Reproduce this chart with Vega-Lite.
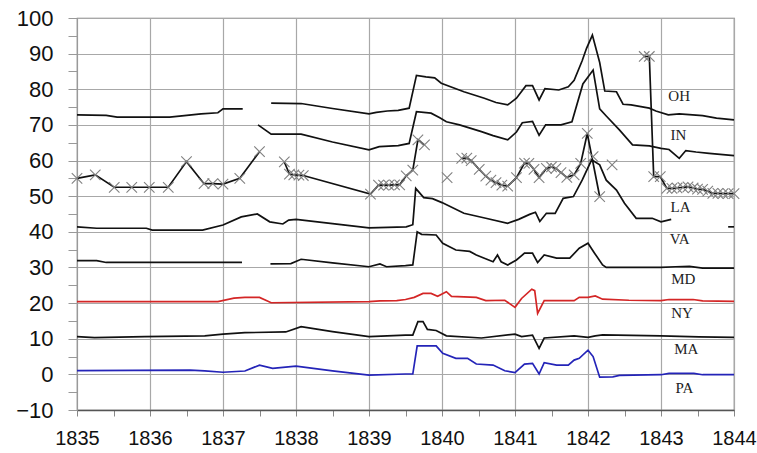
{
  "$schema": "https://vega.github.io/schema/vega-lite/v6.json",
  "width": 657,
  "height": 392,
  "autosize": {"type": "none"},
  "padding": {"left": 77, "top": 18, "right": 23, "bottom": 43},
  "background": "white",
  "config": {
    "view": {"stroke": "#777", "strokeWidth": 1.2},
    "font": "Liberation Sans",
    "axis": {"labelOverlap": false, "labelSeparation": -30}
  },
  "datasets": {
    "lines": [
      {"s":"OH","g":1,"x":1835.0,"y":72.8},{"s":"OH","g":1,"x":1835.4,"y":72.7},{"s":"OH","g":1,"x":1835.55,"y":72.2},{"s":"OH","g":1,"x":1836.27,"y":72.2},{"s":"OH","g":1,"x":1836.47,"y":72.6},{"s":"OH","g":1,"x":1836.7,"y":73.1},{"s":"OH","g":1,"x":1836.93,"y":73.4},{"s":"OH","g":1,"x":1837.0,"y":74.5},{"s":"OH","g":1,"x":1837.27,"y":74.5},
      {"s":"OH","g":2,"x":1837.66,"y":76.1},{"s":"OH","g":2,"x":1838.07,"y":76.0},{"s":"OH","g":2,"x":1838.5,"y":74.6},{"s":"OH","g":2,"x":1839.0,"y":73.1},{"s":"OH","g":2,"x":1839.1,"y":73.5},{"s":"OH","g":2,"x":1839.25,"y":73.9},{"s":"OH","g":2,"x":1839.4,"y":74.1},{"s":"OH","g":2,"x":1839.55,"y":74.7},{"s":"OH","g":2,"x":1839.65,"y":83.9},{"s":"OH","g":2,"x":1839.78,"y":83.5},{"s":"OH","g":2,"x":1839.9,"y":83.2},{"s":"OH","g":2,"x":1839.99,"y":81.7},{"s":"OH","g":2,"x":1840.3,"y":79.3},{"s":"OH","g":2,"x":1840.58,"y":77.5},{"s":"OH","g":2,"x":1840.74,"y":76.3},{"s":"OH","g":2,"x":1840.9,"y":75.6},{"s":"OH","g":2,"x":1841.02,"y":77.5},{"s":"OH","g":2,"x":1841.15,"y":81.0},{"s":"OH","g":2,"x":1841.24,"y":81.0},{"s":"OH","g":2,"x":1841.33,"y":77.0},{"s":"OH","g":2,"x":1841.41,"y":80.2},{"s":"OH","g":2,"x":1841.6,"y":79.8},{"s":"OH","g":2,"x":1841.73,"y":80.7},{"s":"OH","g":2,"x":1841.81,"y":82.5},{"s":"OH","g":2,"x":1841.92,"y":88.0},{"s":"OH","g":2,"x":1841.98,"y":91.5},{"s":"OH","g":2,"x":1842.06,"y":95.2},{"s":"OH","g":2,"x":1842.16,"y":87.5},{"s":"OH","g":2,"x":1842.23,"y":79.5},{"s":"OH","g":2,"x":1842.39,"y":79.3},{"s":"OH","g":2,"x":1842.48,"y":75.8},{"s":"OH","g":2,"x":1842.59,"y":75.6},{"s":"OH","g":2,"x":1842.84,"y":74.7},{"s":"OH","g":2,"x":1842.93,"y":73.9},{"s":"OH","g":2,"x":1843.1,"y":72.8},{"s":"OH","g":2,"x":1843.25,"y":73.1},{"s":"OH","g":2,"x":1843.57,"y":72.6},{"s":"OH","g":2,"x":1843.76,"y":71.9},{"s":"OH","g":2,"x":1844.0,"y":71.4},

      {"s":"IN","g":1,"x":1837.48,"y":70.0},{"s":"IN","g":1,"x":1837.66,"y":67.4},{"s":"IN","g":1,"x":1838.07,"y":67.4},{"s":"IN","g":1,"x":1838.5,"y":65.2},{"s":"IN","g":1,"x":1839.0,"y":63.0},{"s":"IN","g":1,"x":1839.14,"y":63.9},{"s":"IN","g":1,"x":1839.4,"y":64.2},{"s":"IN","g":1,"x":1839.55,"y":64.8},{"s":"IN","g":1,"x":1839.65,"y":73.7},{"s":"IN","g":1,"x":1839.85,"y":73.3},{"s":"IN","g":1,"x":1839.97,"y":72.0},{"s":"IN","g":1,"x":1840.06,"y":70.9},{"s":"IN","g":1,"x":1840.24,"y":70.0},{"s":"IN","g":1,"x":1840.54,"y":68.1},{"s":"IN","g":1,"x":1840.7,"y":67.0},{"s":"IN","g":1,"x":1840.9,"y":65.8},{"s":"IN","g":1,"x":1841.02,"y":68.0},{"s":"IN","g":1,"x":1841.1,"y":70.6},{"s":"IN","g":1,"x":1841.24,"y":71.0},{"s":"IN","g":1,"x":1841.33,"y":67.1},{"s":"IN","g":1,"x":1841.42,"y":70.0},{"s":"IN","g":1,"x":1841.63,"y":70.0},{"s":"IN","g":1,"x":1841.78,"y":70.9},{"s":"IN","g":1,"x":1841.93,"y":81.5},{"s":"IN","g":1,"x":1842.07,"y":85.4},{"s":"IN","g":1,"x":1842.16,"y":74.5},{"s":"IN","g":1,"x":1842.25,"y":72.5},{"s":"IN","g":1,"x":1842.43,"y":68.6},{"s":"IN","g":1,"x":1842.61,"y":64.4},{"s":"IN","g":1,"x":1842.84,"y":64.1},{"s":"IN","g":1,"x":1843.0,"y":63.4},{"s":"IN","g":1,"x":1843.11,"y":63.1},{"s":"IN","g":1,"x":1843.25,"y":60.6},{"s":"IN","g":1,"x":1843.34,"y":62.8},{"s":"IN","g":1,"x":1843.48,"y":62.4},{"s":"IN","g":1,"x":1843.66,"y":62.0},{"s":"IN","g":1,"x":1844.0,"y":61.4},

      {"s":"LA","g":1,"x":1835.0,"y":55.0},{"s":"LA","g":1,"x":1835.25,"y":56.0},{"s":"LA","g":1,"x":1835.51,"y":52.5},{"s":"LA","g":1,"x":1835.75,"y":52.5},{"s":"LA","g":1,"x":1835.99,"y":52.5},{"s":"LA","g":1,"x":1836.25,"y":52.5},{"s":"LA","g":1,"x":1836.5,"y":59.7},{"s":"LA","g":1,"x":1836.74,"y":53.5},{"s":"LA","g":1,"x":1836.86,"y":53.5},{"s":"LA","g":1,"x":1837.0,"y":53.4},{"s":"LA","g":1,"x":1837.23,"y":55.0},{"s":"LA","g":1,"x":1837.5,"y":62.5},
      {"s":"LA","g":2,"x":1837.84,"y":59.6},{"s":"LA","g":2,"x":1837.91,"y":56.2},{"s":"LA","g":2,"x":1837.97,"y":56.0},{"s":"LA","g":2,"x":1838.04,"y":55.9},{"s":"LA","g":2,"x":1838.1,"y":55.8},{"s":"LA","g":2,"x":1839.02,"y":50.6},{"s":"LA","g":2,"x":1839.13,"y":53.1},{"s":"LA","g":2,"x":1839.2,"y":53.1},{"s":"LA","g":2,"x":1839.27,"y":53.1},{"s":"LA","g":2,"x":1839.35,"y":53.2},{"s":"LA","g":2,"x":1839.42,"y":53.2},{"s":"LA","g":2,"x":1839.51,"y":55.7},{"s":"LA","g":2,"x":1839.6,"y":57.3},{"s":"LA","g":2,"x":1839.67,"y":65.8},{"s":"LA","g":2,"x":1839.76,"y":64.4},
      {"s":"LA","g":3,"x":1840.07,"y":55.2},
      {"s":"LA","g":4,"x":1840.27,"y":60.6},{"s":"LA","g":4,"x":1840.34,"y":60.7},{"s":"LA","g":4,"x":1840.4,"y":60.0},{"s":"LA","g":4,"x":1840.51,"y":57.5},{"s":"LA","g":4,"x":1840.6,"y":55.6},{"s":"LA","g":4,"x":1840.67,"y":54.5},{"s":"LA","g":4,"x":1840.74,"y":53.8},{"s":"LA","g":4,"x":1840.82,"y":53.1},{"s":"LA","g":4,"x":1840.9,"y":52.8},{"s":"LA","g":4,"x":1841.02,"y":55.2},{"s":"LA","g":4,"x":1841.13,"y":59.3},{"s":"LA","g":4,"x":1841.19,"y":59.2},{"s":"LA","g":4,"x":1841.26,"y":57.5},{"s":"LA","g":4,"x":1841.33,"y":55.2},{"s":"LA","g":4,"x":1841.43,"y":57.8},{"s":"LA","g":4,"x":1841.5,"y":58.2},{"s":"LA","g":4,"x":1841.56,"y":57.8},{"s":"LA","g":4,"x":1841.63,"y":56.6},{"s":"LA","g":4,"x":1841.71,"y":55.3},{"s":"LA","g":4,"x":1841.81,"y":56.0},{"s":"LA","g":4,"x":1841.9,"y":59.2},{"s":"LA","g":4,"x":1841.99,"y":67.6},{"s":"LA","g":4,"x":1842.16,"y":49.9},
      {"s":"LA","g":5,"x":1842.07,"y":61.1},
      {"s":"LA","g":6,"x":1842.33,"y":58.8},
      {"s":"LA","g":7,"x":1842.77,"y":89.2},{"s":"LA","g":7,"x":1842.84,"y":89.2},{"s":"LA","g":7,"x":1842.9,"y":55.5},{"s":"LA","g":7,"x":1842.99,"y":55.5},{"s":"LA","g":7,"x":1843.08,"y":52.2},{"s":"LA","g":7,"x":1843.15,"y":52.2},{"s":"LA","g":7,"x":1843.22,"y":52.3},{"s":"LA","g":7,"x":1843.3,"y":52.5},{"s":"LA","g":7,"x":1843.37,"y":52.6},{"s":"LA","g":7,"x":1843.44,"y":52.3},{"s":"LA","g":7,"x":1843.5,"y":52.0},{"s":"LA","g":7,"x":1843.57,"y":51.9},{"s":"LA","g":7,"x":1843.64,"y":51.4},{"s":"LA","g":7,"x":1843.71,"y":50.8},{"s":"LA","g":7,"x":1843.78,"y":50.8},{"s":"LA","g":7,"x":1843.85,"y":50.7},{"s":"LA","g":7,"x":1843.92,"y":50.7},{"s":"LA","g":7,"x":1844.0,"y":50.7},

      {"s":"VA","g":1,"x":1835.0,"y":41.4},{"s":"VA","g":1,"x":1835.27,"y":41.0},{"s":"VA","g":1,"x":1835.95,"y":41.0},{"s":"VA","g":1,"x":1836.03,"y":40.5},{"s":"VA","g":1,"x":1836.72,"y":40.5},{"s":"VA","g":1,"x":1837.0,"y":41.9},{"s":"VA","g":1,"x":1837.25,"y":44.2},{"s":"VA","g":1,"x":1837.47,"y":45.0},{"s":"VA","g":1,"x":1837.64,"y":42.8},{"s":"VA","g":1,"x":1837.82,"y":42.2},{"s":"VA","g":1,"x":1837.9,"y":43.3},{"s":"VA","g":1,"x":1838.0,"y":43.5},{"s":"VA","g":1,"x":1838.5,"y":42.3},{"s":"VA","g":1,"x":1839.0,"y":41.1},{"s":"VA","g":1,"x":1839.51,"y":41.4},{"s":"VA","g":1,"x":1839.6,"y":42.0},{"s":"VA","g":1,"x":1839.64,"y":52.2},{"s":"VA","g":1,"x":1839.75,"y":49.6},{"s":"VA","g":1,"x":1839.87,"y":49.3},{"s":"VA","g":1,"x":1840.0,"y":48.2},{"s":"VA","g":1,"x":1840.3,"y":45.2},{"s":"VA","g":1,"x":1840.6,"y":43.8},{"s":"VA","g":1,"x":1840.9,"y":42.4},{"s":"VA","g":1,"x":1841.05,"y":43.5},{"s":"VA","g":1,"x":1841.2,"y":44.9},{"s":"VA","g":1,"x":1841.28,"y":45.5},{"s":"VA","g":1,"x":1841.34,"y":42.9},{"s":"VA","g":1,"x":1841.43,"y":45.2},{"s":"VA","g":1,"x":1841.55,"y":45.2},{"s":"VA","g":1,"x":1841.66,"y":49.4},{"s":"VA","g":1,"x":1841.8,"y":49.9},{"s":"VA","g":1,"x":1841.92,"y":54.5},{"s":"VA","g":1,"x":1842.05,"y":60.2},{"s":"VA","g":1,"x":1842.16,"y":58.8},{"s":"VA","g":1,"x":1842.25,"y":54.5},{"s":"VA","g":1,"x":1842.39,"y":51.7},{"s":"VA","g":1,"x":1842.5,"y":48.0},{"s":"VA","g":1,"x":1842.66,"y":43.8},{"s":"VA","g":1,"x":1842.88,"y":43.8},{"s":"VA","g":1,"x":1843.0,"y":42.8},{"s":"VA","g":1,"x":1843.14,"y":43.5},
      {"s":"VA","g":2,"x":1843.92,"y":41.4},{"s":"VA","g":2,"x":1844.0,"y":41.4},

      {"s":"MD","g":1,"x":1835.0,"y":31.9},{"s":"MD","g":1,"x":1835.27,"y":31.9},{"s":"MD","g":1,"x":1835.4,"y":31.4},{"s":"MD","g":1,"x":1837.26,"y":31.4},
      {"s":"MD","g":2,"x":1837.65,"y":31.0},{"s":"MD","g":2,"x":1837.93,"y":31.1},{"s":"MD","g":2,"x":1838.07,"y":32.3},{"s":"MD","g":2,"x":1838.5,"y":31.3},{"s":"MD","g":2,"x":1839.0,"y":30.2},{"s":"MD","g":2,"x":1839.15,"y":31.0},{"s":"MD","g":2,"x":1839.24,"y":30.2},{"s":"MD","g":2,"x":1839.5,"y":30.5},{"s":"MD","g":2,"x":1839.6,"y":30.7},{"s":"MD","g":2,"x":1839.66,"y":40.0},{"s":"MD","g":2,"x":1839.72,"y":39.3},{"s":"MD","g":2,"x":1839.92,"y":39.1},{"s":"MD","g":2,"x":1840.01,"y":36.8},{"s":"MD","g":2,"x":1840.19,"y":34.9},{"s":"MD","g":2,"x":1840.38,"y":34.5},{"s":"MD","g":2,"x":1840.47,"y":33.5},{"s":"MD","g":2,"x":1840.64,"y":32.1},{"s":"MD","g":2,"x":1840.7,"y":31.6},{"s":"MD","g":2,"x":1840.76,"y":33.5},{"s":"MD","g":2,"x":1840.81,"y":31.6},{"s":"MD","g":2,"x":1840.9,"y":30.7},{"s":"MD","g":2,"x":1841.02,"y":32.1},{"s":"MD","g":2,"x":1841.13,"y":34.0},{"s":"MD","g":2,"x":1841.24,"y":34.0},{"s":"MD","g":2,"x":1841.31,"y":31.4},{"s":"MD","g":2,"x":1841.4,"y":33.5},{"s":"MD","g":2,"x":1841.57,"y":32.6},{"s":"MD","g":2,"x":1841.75,"y":32.6},{"s":"MD","g":2,"x":1841.88,"y":35.4},{"s":"MD","g":2,"x":1842.0,"y":36.8},{"s":"MD","g":2,"x":1842.09,"y":34.0},{"s":"MD","g":2,"x":1842.2,"y":30.7},{"s":"MD","g":2,"x":1842.25,"y":30.0},{"s":"MD","g":2,"x":1843.0,"y":30.0},{"s":"MD","g":2,"x":1843.2,"y":30.2},{"s":"MD","g":2,"x":1843.39,"y":30.3},{"s":"MD","g":2,"x":1843.57,"y":29.8},{"s":"MD","g":2,"x":1844.0,"y":29.8},

      {"s":"NY","g":1,"x":1835.0,"y":20.4},{"s":"NY","g":1,"x":1836.93,"y":20.4},{"s":"NY","g":1,"x":1837.15,"y":21.4},{"s":"NY","g":1,"x":1837.3,"y":21.6},{"s":"NY","g":1,"x":1837.5,"y":21.6},{"s":"NY","g":1,"x":1837.66,"y":20.1},{"s":"NY","g":1,"x":1839.0,"y":20.4},{"s":"NY","g":1,"x":1839.15,"y":20.6},{"s":"NY","g":1,"x":1839.38,"y":20.7},{"s":"NY","g":1,"x":1839.5,"y":21.0},{"s":"NY","g":1,"x":1839.62,"y":21.6},{"s":"NY","g":1,"x":1839.74,"y":22.7},{"s":"NY","g":1,"x":1839.85,"y":22.7},{"s":"NY","g":1,"x":1839.94,"y":21.9},{"s":"NY","g":1,"x":1840.06,"y":23.2},{"s":"NY","g":1,"x":1840.13,"y":21.9},{"s":"NY","g":1,"x":1840.47,"y":21.6},{"s":"NY","g":1,"x":1840.6,"y":20.7},{"s":"NY","g":1,"x":1840.86,"y":20.8},{"s":"NY","g":1,"x":1841.0,"y":18.8},{"s":"NY","g":1,"x":1841.09,"y":21.3},{"s":"NY","g":1,"x":1841.23,"y":23.9},{"s":"NY","g":1,"x":1841.27,"y":23.5},{"s":"NY","g":1,"x":1841.31,"y":17.1},{"s":"NY","g":1,"x":1841.4,"y":20.7},{"s":"NY","g":1,"x":1841.81,"y":20.7},{"s":"NY","g":1,"x":1841.88,"y":21.6},{"s":"NY","g":1,"x":1842.0,"y":21.6},{"s":"NY","g":1,"x":1842.1,"y":22.0},{"s":"NY","g":1,"x":1842.2,"y":21.1},{"s":"NY","g":1,"x":1842.56,"y":20.8},{"s":"NY","g":1,"x":1843.0,"y":20.7},{"s":"NY","g":1,"x":1843.11,"y":21.0},{"s":"NY","g":1,"x":1843.44,"y":21.0},{"s":"NY","g":1,"x":1843.57,"y":20.6},{"s":"NY","g":1,"x":1844.0,"y":20.5},

      {"s":"MA","g":1,"x":1835.0,"y":10.6},{"s":"MA","g":1,"x":1835.24,"y":10.3},{"s":"MA","g":1,"x":1835.93,"y":10.6},{"s":"MA","g":1,"x":1836.75,"y":10.8},{"s":"MA","g":1,"x":1837.0,"y":11.3},{"s":"MA","g":1,"x":1837.3,"y":11.7},{"s":"MA","g":1,"x":1837.86,"y":11.9},{"s":"MA","g":1,"x":1838.07,"y":13.4},{"s":"MA","g":1,"x":1838.5,"y":12.0},{"s":"MA","g":1,"x":1839.0,"y":10.6},{"s":"MA","g":1,"x":1839.5,"y":11.0},{"s":"MA","g":1,"x":1839.6,"y":11.0},{"s":"MA","g":1,"x":1839.67,"y":14.8},{"s":"MA","g":1,"x":1839.74,"y":14.8},{"s":"MA","g":1,"x":1839.8,"y":12.6},{"s":"MA","g":1,"x":1839.92,"y":12.3},{"s":"MA","g":1,"x":1840.06,"y":10.8},{"s":"MA","g":1,"x":1840.54,"y":10.2},{"s":"MA","g":1,"x":1841.0,"y":11.3},{"s":"MA","g":1,"x":1841.09,"y":10.6},{"s":"MA","g":1,"x":1841.24,"y":11.0},{"s":"MA","g":1,"x":1841.33,"y":7.3},{"s":"MA","g":1,"x":1841.4,"y":10.2},{"s":"MA","g":1,"x":1841.81,"y":10.8},{"s":"MA","g":1,"x":1842.0,"y":10.4},{"s":"MA","g":1,"x":1842.1,"y":10.8},{"s":"MA","g":1,"x":1842.2,"y":11.1},{"s":"MA","g":1,"x":1843.0,"y":10.8},{"s":"MA","g":1,"x":1843.52,"y":10.5},{"s":"MA","g":1,"x":1844.0,"y":10.4},

      {"s":"PA","g":1,"x":1835.0,"y":1.05},{"s":"PA","g":1,"x":1836.55,"y":1.2},{"s":"PA","g":1,"x":1836.75,"y":1.0},{"s":"PA","g":1,"x":1837.0,"y":0.6},{"s":"PA","g":1,"x":1837.3,"y":0.95},{"s":"PA","g":1,"x":1837.5,"y":2.6},{"s":"PA","g":1,"x":1837.68,"y":1.7},{"s":"PA","g":1,"x":1838.0,"y":2.3},{"s":"PA","g":1,"x":1838.5,"y":1.0},{"s":"PA","g":1,"x":1839.0,"y":-0.2},{"s":"PA","g":1,"x":1839.5,"y":0.1},{"s":"PA","g":1,"x":1839.6,"y":0.1},{"s":"PA","g":1,"x":1839.66,"y":8.0},{"s":"PA","g":1,"x":1839.92,"y":8.0},{"s":"PA","g":1,"x":1840.01,"y":5.9},{"s":"PA","g":1,"x":1840.19,"y":4.5},{"s":"PA","g":1,"x":1840.35,"y":4.5},{"s":"PA","g":1,"x":1840.47,"y":2.9},{"s":"PA","g":1,"x":1840.7,"y":2.6},{"s":"PA","g":1,"x":1840.86,"y":1.0},{"s":"PA","g":1,"x":1841.0,"y":0.5},{"s":"PA","g":1,"x":1841.13,"y":2.9},{"s":"PA","g":1,"x":1841.24,"y":3.1},{"s":"PA","g":1,"x":1841.33,"y":0.1},{"s":"PA","g":1,"x":1841.4,"y":3.3},{"s":"PA","g":1,"x":1841.57,"y":2.6},{"s":"PA","g":1,"x":1841.73,"y":2.6},{"s":"PA","g":1,"x":1841.81,"y":4.0},{"s":"PA","g":1,"x":1841.88,"y":4.5},{"s":"PA","g":1,"x":1842.0,"y":6.8},{"s":"PA","g":1,"x":1842.07,"y":5.0},{"s":"PA","g":1,"x":1842.16,"y":-0.8},{"s":"PA","g":1,"x":1842.34,"y":-0.7},{"s":"PA","g":1,"x":1842.43,"y":-0.3},{"s":"PA","g":1,"x":1843.0,"y":-0.1},{"s":"PA","g":1,"x":1843.11,"y":0.3},{"s":"PA","g":1,"x":1843.45,"y":0.3},{"s":"PA","g":1,"x":1843.57,"y":-0.1},{"s":"PA","g":1,"x":1844.0,"y":-0.1}
    ],
    "labels": [
      {"label":"OH","x":1843.1,"y":78.1},
      {"label":"IN","x":1843.13,"y":67.2},
      {"label":"LA","x":1843.13,"y":47.1},
      {"label":"VA","x":1843.12,"y":37.9},
      {"label":"MD","x":1843.14,"y":26.7},
      {"label":"NY","x":1843.14,"y":17.3},
      {"label":"MA","x":1843.18,"y":7.0},
      {"label":"PA","x":1843.2,"y":-3.7}
    ]
  },
  "encoding": {
    "x": {
      "field": "x", "type": "quantitative",
      "scale": {"domain": [1835, 1844], "nice": false, "zero": false},
      "axis": {
        "title": null,
        "values": [1835,1835.5,1836,1836.5,1837,1837.5,1838,1838.5,1839,1839.5,1840,1840.5,1841,1841.5,1842,1842.5,1843,1843.5,1844],
        "labelExpr": "datum.value % 1 === 0 ? format(datum.value, 'd') : ''",
        "labelOverlap": false,
        "labelFont": "Liberation Sans",
        "labelFontSize": 20,
        "labelColor": "#111",
        "labelPadding": 12,
        "labelFlush": false,
        "tickSize": 6,
        "tickColor": "#888",
        "domainColor": "#555",
        "domainWidth": 1.5,
        "grid": true,
        "gridColor": "#a8a8a8",
        "gridWidth": 1.2,
        "gridOpacity": {"condition": {"test": "datum.value % 1 === 0", "value": 1}, "value": 0}
      }
    },
    "y": {
      "field": "y", "type": "quantitative",
      "scale": {"domain": [-10, 100], "nice": false, "zero": false},
      "axis": {
        "title": null,
        "values": [-10,-5,0,5,10,15,20,25,30,35,40,45,50,55,60,65,70,75,80,85,90,95,100],
        "labelExpr": "datum.value % 10 === 0 ? format(datum.value, 'd') : ''",
        "labelOverlap": false,
        "labelFont": "Liberation Sans",
        "labelFontSize": 22,
        "labelColor": "#111",
        "labelPadding": 15,
        "labelFlush": false,
        "tickSize": 9,
        "tickColor": "#999",
        "domainColor": "#999",
        "grid": true,
        "gridColor": "#a8a8a8",
        "gridWidth": 1.2,
        "gridOpacity": {"condition": {"test": "datum.value % 10 === 0", "value": 1}, "value": 0}
      }
    }
  },
  "layer": [
    {
      "data": {"name": "lines"},
      "mark": {"type": "line", "strokeWidth": 1.7, "interpolate": "linear"},
      "encoding": {
        "color": {
          "field": "s", "type": "nominal",
          "scale": {
            "domain": ["OH","IN","LA","VA","MD","NY","MA","PA"],
            "range": ["#111111","#111111","#111111","#111111","#111111","#d42626","#111111","#2424b8"]
          },
          "legend": null
        },
        "detail": {"field": "g", "type": "nominal"}
      }
    },
    {
      "data": {"name": "lines"},
      "transform": [{"filter": "datum.s === 'LA'"}],
      "mark": {"type": "point", "shape": "M-1,-1L1,1M-1,1L1,-1", "filled": false, "stroke": "#808080", "strokeWidth": 1.1, "size": 110, "opacity": 1},
      "encoding": {}
    },
    {
      "data": {"name": "labels"},
      "mark": {"type": "text", "align": "left", "baseline": "middle", "font": "Liberation Serif", "fontSize": 15, "color": "#222"},
      "encoding": {
        "text": {"field": "label"}
      }
    }
  ]
}
